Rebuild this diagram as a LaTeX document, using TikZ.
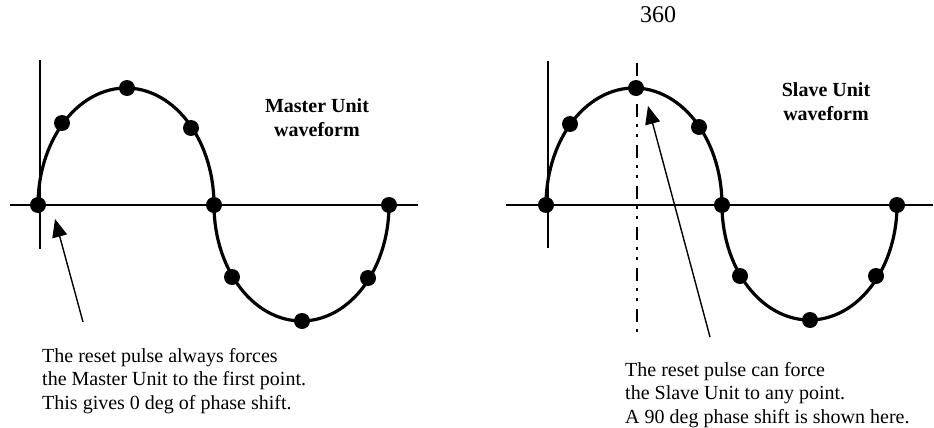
\documentclass[tikz,border=0pt]{standalone}
\usepackage{fontspec}
\setmainfont{Liberation Serif}
\usetikzlibrary{arrows.meta}

\begin{document}
\begin{tikzpicture}[x=1pt, y=-1pt,
    axis/.style={line width=1.4pt},
    wave/.style={line width=3.2pt},
    dot/.style={circle, fill, inner sep=0pt, minimum size=16pt},
    pointer/.style={line width=1.4pt, -{Triangle[length=18pt,width=15pt]}},
    marker/.style={line width=1.8pt, dash pattern=on 13pt off 7pt on 3pt off 7pt on 3pt off 8pt},
    title/.style={font=\bfseries\fontsize{20}{24}\selectfont, align=center, inner sep=0pt},
    caption/.style={font=\fontsize{20}{23.5}\selectfont, align=left, inner sep=0pt, anchor=base west}]
  \useasboundingbox (0,0) rectangle (934,428);

  % master unit
  \draw[axis] (10,205) -- (418,205);
  \draw[axis] (40,60) -- (40,249);
  \draw[wave] plot[domain=180:0, samples=60] ({126+88*cos(\x)}, {205-117*sin(\x)})
    -- plot[domain=180:360, samples=60] ({301.5+87.5*cos(\x)}, {205-116*sin(\x)});
  \foreach \n/\p in {1/{38,205}, 2/{62,123}, 3/{127,88}, 4/{191,128}, 5/{214,205},
                     6/{232,277}, 7/{302,321}, 8/{368,278}, 9/{389,205}}
    \node[dot] (m\n) at (\p) {};
  \node[title] (mtitle) at (317,118) {Master Unit\\waveform};
  \coordinate (mtail) at (83,322);
  \coordinate (mtip) at (55,219);
  \draw[pointer] (mtail) -- (mtip);
  \node[caption] (mnote) at (42,409) {The reset pulse always forces\\the Master Unit to the first point.\\This gives 0 deg of phase shift.};

  % slave unit
  \draw[axis] (506,205) -- (933,205);
  \draw[axis] (548,61) -- (548,248);
  \draw[wave] plot[domain=180:0, samples=60] ({634+88*cos(\x)}, {205-117*sin(\x)})
    -- plot[domain=180:360, samples=60] ({809.5+87.5*cos(\x)}, {205-115*sin(\x)});
  \foreach \n/\p in {1/{546,205}, 2/{570,124}, 3/{636,88}, 4/{699,127}, 5/{722,205},
                     6/{740,276}, 7/{810,320}, 8/{876,276}, 9/{897,205}}
    \node[dot] (s\n) at (\p) {};
  \node[title] (stitle) at (826,102) {Slave Unit\\waveform};
  \node[font=\fontsize{24}{28}\selectfont, inner sep=0pt] (deg) at (658,15) {360};
  \coordinate (dtop) at (637,63);
  \coordinate (dbot) at (637,336);
  \draw[marker] (dtop) -- (dbot);
  \coordinate (stail) at (710,337);
  \coordinate (stip) at (648,106);
  \draw[pointer] (stail) -- (stip);
  \node[caption] (snote) at (625,423) {The reset pulse can force\\the Slave Unit to any point.\\A 90 deg phase shift is shown here.};
\end{tikzpicture}
\end{document}
